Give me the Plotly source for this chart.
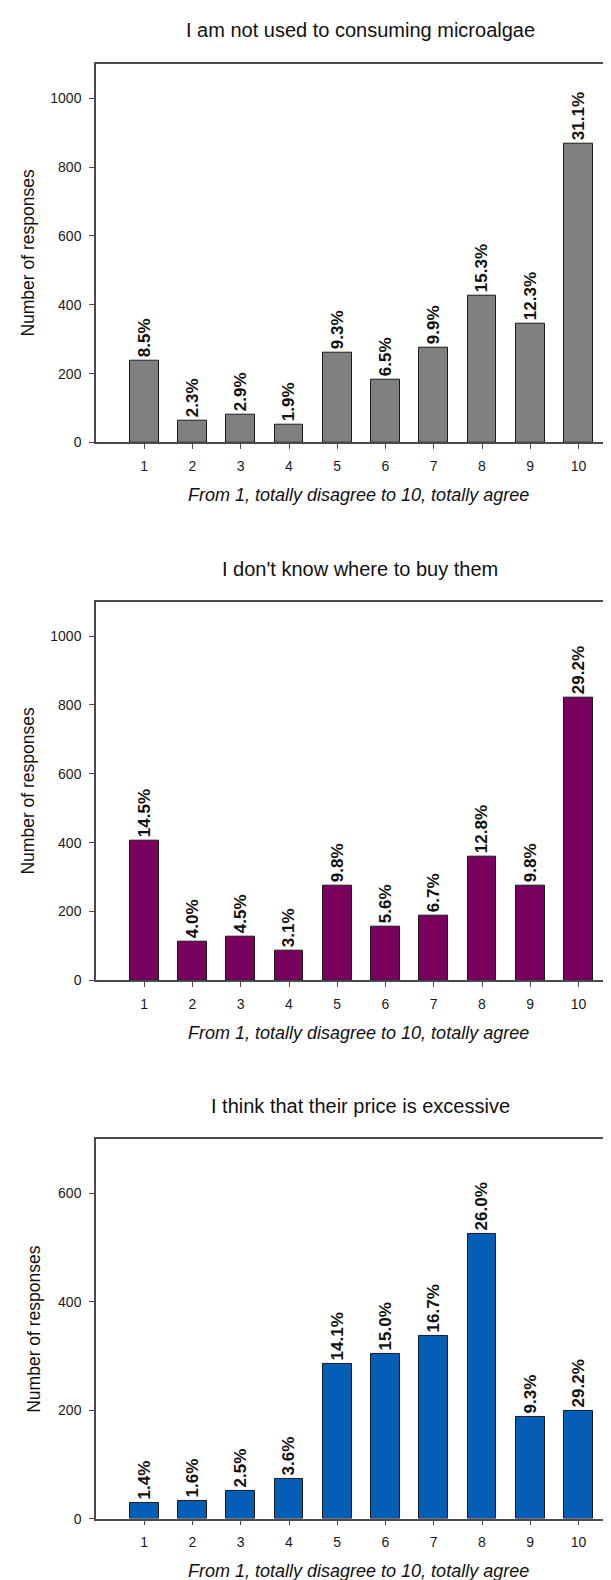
import plotly.graph_objects as go

W, H = 611, 1580

categories = [1, 2, 3, 4, 5, 6, 7, 8, 9, 10]

titles = [
    "I am not used to consuming microalgae",
    "I don't know where to buy them",
    "I think that their price is excessive",
]

counts_habit = [238, 64, 80, 53, 260, 181, 276, 427, 344, 869]
labels_habit = ["8.5%", "2.3%", "2.9%", "1.9%", "9.3%", "6.5%", "9.9%", "15.3%", "12.3%", "31.1%"]

counts_where = [407, 112, 127, 87, 275, 157, 188, 360, 275, 821]
labels_where = ["14.5%", "4.0%", "4.5%", "3.1%", "9.8%", "5.6%", "6.7%", "12.8%", "9.8%", "29.2%"]

counts_price = [29, 33, 51, 73, 286, 303, 337, 525, 188, 199]
labels_price = ["1.4%", "1.6%", "2.5%", "3.6%", "14.1%", "15.0%", "16.7%", "26.0%", "9.3%", "29.2%"]

y_ticks_big = [0, 200, 400, 600, 800, 1000]
y_ticks_small = [0, 200, 400, 600]

x_title = "From 1, totally disagree to 10, totally agree"
y_title = "Number of responses"

series = [
    (counts_habit, labels_habit, "#808080", 1100, y_ticks_big),
    (counts_where, labels_where, "#7a0060", 1100, y_ticks_big),
    (counts_price, labels_price, "#055eb5", 700, y_ticks_small),
]

# pixel layout (top, bottom of each plot area), left edge, x scale
plot_px = [(56.0, 436.7), (596.7, 977.3), (1136.7, 1518.3)]
title_y_px = [22.5, 563.5, 1103.5]
ytitle_x_px = [20.5, 20.5, 26.0]
left_px = 88.0
unit_px = 48.25
x_max = (W - left_px) / unit_px

FONT = "Liberation Sans, Arial, sans-serif"
AX = "#4a4a4a"

fig = go.Figure()
annotations = []
for i, (vals, labs, col, ymax, yt) in enumerate(series):
    xa = "x" if i == 0 else f"x{i+1}"
    ya = "y" if i == 0 else f"y{i+1}"
    fig.add_trace(go.Bar(
        x=categories, y=vals, width=0.6,
        marker=dict(color=col, line=dict(color="#1a1a1a", width=1)),
        text=labs, textposition="outside", textangle=-90,
        constraintext="none", cliponaxis=False,
        textfont=dict(family=FONT, size=17, color="#111111", weight="bold"),
        xaxis=xa, yaxis=ya, showlegend=False, hoverinfo="skip",
    ))
    top, bot = plot_px[i]
    dom_y = [1 - bot / H, 1 - top / H]
    axis_common = dict(showline=True, linecolor=AX, linewidth=1.5, ticks="outside",
                       ticklen=5, tickwidth=1.2, tickcolor=AX, showgrid=False,
                       zeroline=False, tickfont=dict(family=FONT, size=14, color="#1a1a1a"))
    xkey = "xaxis" if i == 0 else f"xaxis{i+1}"
    ykey = "yaxis" if i == 0 else f"yaxis{i+1}"
    fig.update_layout(**{
        xkey: dict(domain=[left_px / W, 1], range=[0, x_max], anchor=ya,
                   tickvals=categories, ticktext=[str(c) for c in categories],
                   mirror=True, ticklabelstandoff=5, **axis_common),
        ykey: dict(domain=dom_y, range=[0, ymax], anchor=xa,
                   tickvals=yt, ticklabelstandoff=5, **axis_common),
    })
    # chart title
    annotations.append(dict(text=titles[i], x=352 / W, y=1 - title_y_px[i] / H,
                            xref="paper", yref="paper", showarrow=False,
                            xanchor="center", yanchor="middle",
                            font=dict(family=FONT, size=20, color="#111111")))
    # y title
    annotations.append(dict(text=y_title, x=ytitle_x_px[i] / W, y=1 - (top + bot) / 2 / H,
                            xref="paper", yref="paper", showarrow=False, textangle=-90,
                            xanchor="center", yanchor="middle",
                            font=dict(family=FONT, size=17.5, color="#111111")))
    # x title
    annotations.append(dict(text="<i>" + x_title + "</i>", x=350 / W, y=1 - (bot + 53) / H,
                            xref="paper", yref="paper", showarrow=False,
                            xanchor="center", yanchor="middle",
                            font=dict(family=FONT, size=18, color="#111111")))

fig.update_layout(width=W, height=H, autosize=False,
                  margin=dict(l=0, r=0, t=0, b=0),
                  paper_bgcolor="white", plot_bgcolor="white",
                  annotations=annotations, bargap=0)

fig.write_html("out.html")
